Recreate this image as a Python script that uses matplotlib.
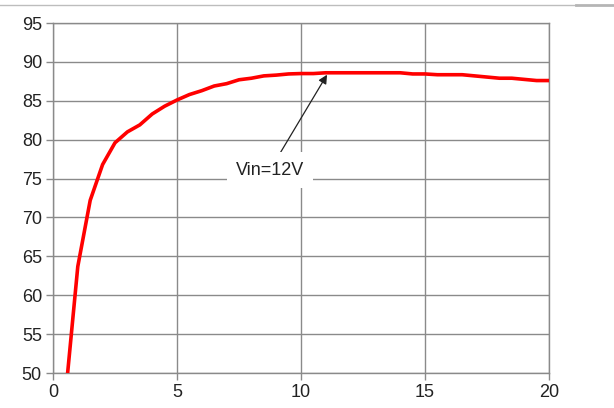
import matplotlib.pyplot as plt
from matplotlib.lines import Line2D

# efficiency curve, Vin = 12V
load = [0.5, 1.0, 1.5, 2.0, 2.5, 3.0, 3.5, 4.0, 4.5, 5.0,
        5.5, 6.0, 6.5, 7.0, 7.5, 8.0, 8.5, 9.0, 9.5, 10.0,
        10.5, 11.0, 11.5, 12.0, 12.5, 13.0, 13.5, 14.0, 14.5, 15.0,
        15.5, 16.0, 16.5, 17.0, 17.5, 18.0, 18.5, 19.0, 19.5, 20.0]
eff = [47.0, 63.7, 72.2, 76.8, 79.6, 81.0, 81.9, 83.3, 84.3, 85.1,
       85.8, 86.3, 86.9, 87.2, 87.7, 87.9, 88.2, 88.3, 88.45, 88.5,
       88.5, 88.6, 88.6, 88.6, 88.6, 88.6, 88.6, 88.6, 88.45, 88.45,
       88.35, 88.35, 88.35, 88.2, 88.05, 87.9, 87.9, 87.75, 87.6, 87.6]

xticks = [0, 5, 10, 15, 20]
yticks = [50, 55, 60, 65, 70, 75, 80, 85, 90, 95]

plt.rcParams['font.family'] = ['Liberation Sans', 'DejaVu Sans']

fig = plt.figure(figsize=(6.14, 4.08), dpi=100)
ax = fig.add_axes([53/614, 35/408, 496/614, 350/408])

ax.plot(load, eff, color='red', linewidth=2.6, solid_joinstyle='round', zorder=3)

ax.set_xlim(0, 20)
ax.set_ylim(50, 95)
ax.set_xticks(xticks)
ax.set_yticks(yticks)
ax.grid(True, color='#8a8a8a', linewidth=1.0)
ax.set_axisbelow(True)
for s in ax.spines.values():
    s.set_color('#8a8a8a')
    s.set_linewidth(1.0)
ax.tick_params(colors='#8a8a8a', labelcolor='#222222', labelsize=13,
               length=5, width=1.0, pad=3)

ax.annotate('Vin=12V', xy=(11.05, 88.35), xytext=(8.75, 76.1),
            fontsize=13, color='#222222', ha='center', va='center',
            bbox=dict(boxstyle='square,pad=0.5', fc='white', ec='none'),
            arrowprops=dict(arrowstyle='-|>', color='#222222', lw=0.9,
                            mutation_scale=13, shrinkA=0, shrinkB=0),
            zorder=4)

# thin border line at top of the image
fig.add_artist(Line2D([0, 576/614], [1 - 4.5/408] * 2, color='#bdbdbd', lw=1.0))
fig.add_artist(Line2D([576/614, 1], [1 - 5/408] * 2, color='#b5b5b5', lw=2.0))

fig.savefig('out.png', dpi=100)
